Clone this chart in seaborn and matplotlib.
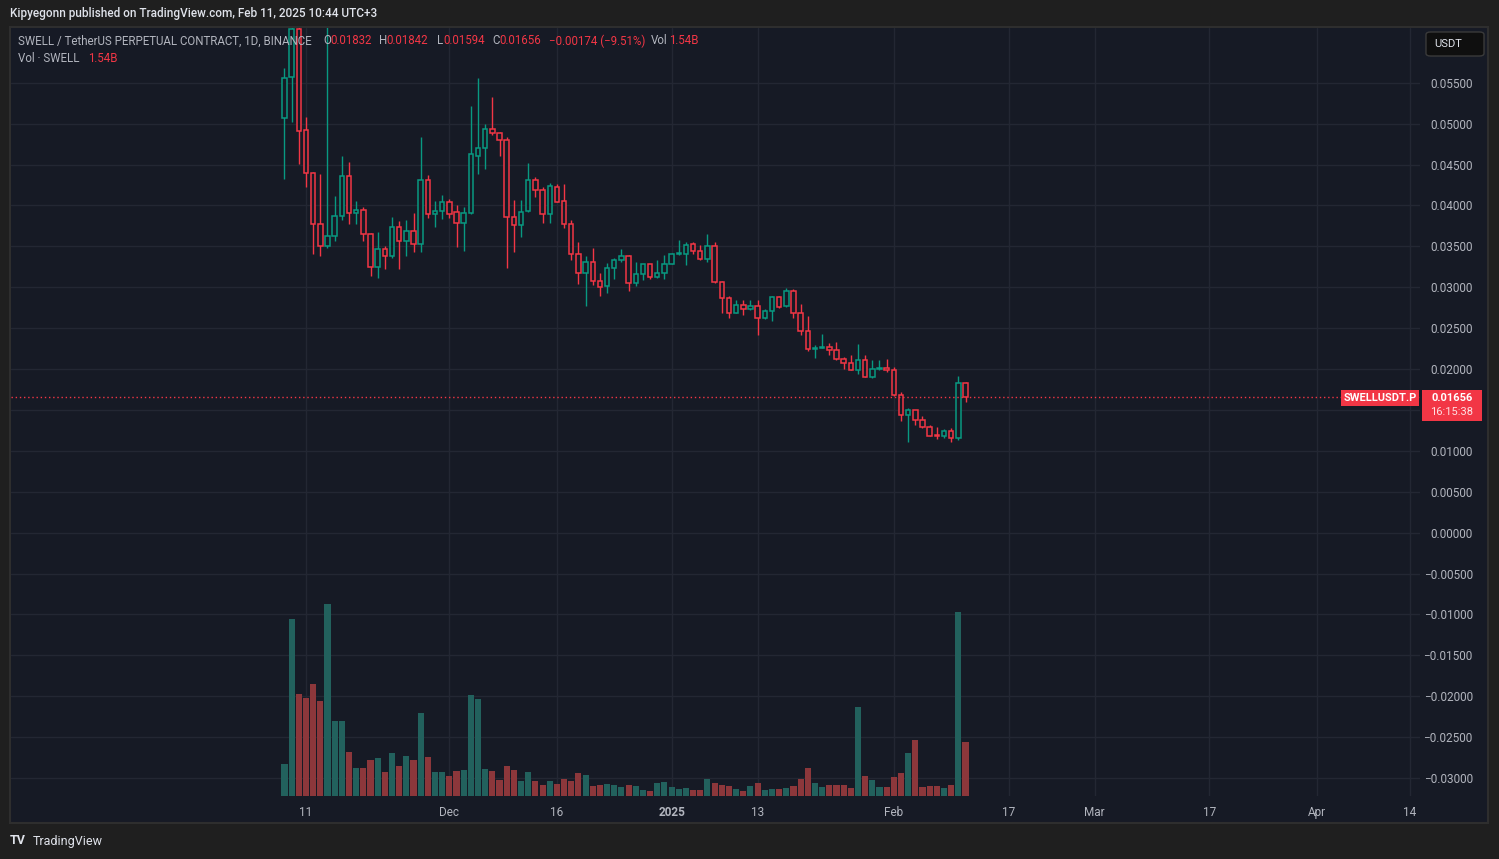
import numpy as np
import pandas as pd
import matplotlib.pyplot as plt
import matplotlib.dates as mdates
from matplotlib.patches import Rectangle, FancyBboxPatch
import seaborn as sns

# SWELL / USDT perpetual, daily candles 2024-11-08 .. 2025-02-11
dates = pd.date_range("2024-11-08", "2025-02-11", freq="D")

opens = [
    0.0507, 0.0557, 0.0616, 0.0492, 0.0440, 0.0377, 0.0351, 0.0363, 0.0387, 0.0436,
    0.0391, 0.0394, 0.0365, 0.0325, 0.0347, 0.0338, 0.0374, 0.0357, 0.0369, 0.0353,
    0.0431, 0.0389, 0.0393,
    0.0404, 0.0392, 0.0378, 0.0391, 0.0461, 0.0470, 0.0494, 0.0489, 0.0480, 0.0386,
    0.0376, 0.0393, 0.0431, 0.0419, 0.0389, 0.0423, 0.0405, 0.0377, 0.0341, 0.0317,
    0.0331, 0.0308, 0.0301, 0.0323, 0.0333, 0.0338, 0.0305, 0.0316, 0.0328, 0.0313,
    0.0318,
    0.0329, 0.0341, 0.0341, 0.0353, 0.0344, 0.0335, 0.0350, 0.0306, 0.0287, 0.0268,
    0.0278, 0.0274, 0.0277, 0.0262, 0.0271, 0.0288, 0.0277, 0.0296, 0.0268, 0.0246,
    0.0224, 0.0226, 0.0227, 0.0223, 0.0212, 0.0207, 0.0199, 0.0211, 0.0190, 0.0200,
    0.0201,
    0.0199, 0.0168, 0.0144, 0.0150, 0.0138, 0.0129, 0.0119, 0.0118, 0.0124, 0.0116,
    0.01832,
]
highs = [
    0.0568, 0.0660, 0.0650, 0.0508, 0.0441, 0.0439, 0.0700, 0.0411, 0.0460, 0.0453,
    0.0405, 0.0398, 0.0366, 0.0367, 0.0350, 0.0386, 0.0381, 0.0382, 0.0391, 0.0484,
    0.0437, 0.0405, 0.0413,
    0.0408, 0.0400, 0.0398, 0.0522, 0.0556, 0.0500, 0.0533, 0.0490, 0.0484, 0.0407,
    0.0407, 0.0452, 0.0435, 0.0423, 0.0427, 0.0426, 0.0426, 0.0382, 0.0355, 0.0338,
    0.0348, 0.0317, 0.0330, 0.0336, 0.0347, 0.0340, 0.0331, 0.0329, 0.0329, 0.0333,
    0.0339,
    0.0342, 0.0358, 0.0355, 0.0355, 0.0352, 0.0365, 0.0355, 0.0308, 0.0289, 0.0285,
    0.0285, 0.0285, 0.0285, 0.0274, 0.0289, 0.0289, 0.0299, 0.0298, 0.0279, 0.0265,
    0.0229, 0.0243, 0.0232, 0.0233, 0.0215, 0.0217, 0.0231, 0.0217, 0.0211, 0.0211,
    0.0212,
    0.0202, 0.0172, 0.0152, 0.0150, 0.0143, 0.0132, 0.0129, 0.0127, 0.0128, 0.0192,
    0.01842,
]
lows = [
    0.0432, 0.0502, 0.0451, 0.0423, 0.0341, 0.0338, 0.0348, 0.0356, 0.0382, 0.0377,
    0.0377, 0.0357, 0.0314, 0.0311, 0.0322, 0.0336, 0.0322, 0.0338, 0.0343, 0.0343,
    0.0385, 0.0374, 0.0383,
    0.0385, 0.0349, 0.0344, 0.0390, 0.0438, 0.0445, 0.0486, 0.0461, 0.0324, 0.0343,
    0.0362, 0.0392, 0.0410, 0.0378, 0.0378, 0.0404, 0.0373, 0.0333, 0.0304, 0.0277,
    0.0303, 0.0289, 0.0293, 0.0310, 0.0331, 0.0296, 0.0302, 0.0309, 0.0310, 0.0311,
    0.0310,
    0.0328, 0.0340, 0.0327, 0.0341, 0.0333, 0.0331, 0.0305, 0.0268, 0.0263, 0.0268,
    0.0266, 0.0272, 0.0242, 0.0261, 0.0259, 0.0275, 0.0276, 0.0262, 0.0242, 0.0222,
    0.0213, 0.0226, 0.0217, 0.0211, 0.0200, 0.0199, 0.0194, 0.0190, 0.0189, 0.0199,
    0.0197,
    0.0167, 0.0137, 0.0111, 0.0132, 0.0128, 0.0118, 0.0114, 0.0116, 0.0111, 0.0113,
    0.01594,
]
closes = [
    0.0556, 0.0616, 0.0491, 0.0440, 0.0377, 0.0351, 0.0363, 0.0387, 0.0436, 0.0391,
    0.0394, 0.0365, 0.0325, 0.0347, 0.0338, 0.0374, 0.0357, 0.0369, 0.0353, 0.0431,
    0.0389, 0.0393, 0.0404,
    0.0389, 0.0378, 0.0391, 0.0463, 0.0470, 0.0494, 0.0489, 0.0480, 0.0386, 0.0376,
    0.0392, 0.0431, 0.0419, 0.0389, 0.0424, 0.0404, 0.0377, 0.0341, 0.0317, 0.0331,
    0.0308, 0.0300, 0.0323, 0.0333, 0.0338, 0.0305, 0.0316, 0.0328, 0.0313, 0.0318,
    0.0329,
    0.0341, 0.0342, 0.0352, 0.0344, 0.0335, 0.0350, 0.0306, 0.0287, 0.0268, 0.0278,
    0.0274, 0.0277, 0.0262, 0.0271, 0.0288, 0.0276, 0.0296, 0.0268, 0.0246, 0.0224,
    0.0226, 0.0227, 0.0223, 0.0212, 0.0207, 0.0199, 0.0211, 0.0190, 0.0200, 0.0201,
    0.0199,
    0.0168, 0.0144, 0.0150, 0.0138, 0.0129, 0.0118, 0.0118, 0.0124, 0.0116, 0.0183,
    0.01656,
]
# volume in billions of SWELL
volumes = [
    0.91, 5.07, 2.92, 2.81, 3.20, 2.72, 5.50, 2.14, 2.14, 1.25, 0.79, 0.79, 1.02,
    1.08, 0.68, 1.22, 0.85, 1.14, 1.02, 2.37, 1.11, 0.68, 0.68,
    0.57, 0.71, 0.74, 2.89, 2.77, 0.77, 0.71, 0.45, 0.85, 0.74, 0.42, 0.68, 0.42,
    0.31, 0.42, 0.34, 0.48, 0.42, 0.65, 0.59, 0.28, 0.31, 0.34, 0.31, 0.25, 0.31,
    0.28, 0.16, 0.13, 0.36, 0.39,
    0.25, 0.19, 0.22, 0.16, 0.16, 0.48, 0.36, 0.31, 0.28, 0.19, 0.13, 0.28, 0.36,
    0.16, 0.19, 0.19, 0.22, 0.28, 0.48, 0.79, 0.36, 0.25, 0.31, 0.31, 0.31, 0.22,
    2.54, 0.57, 0.45, 0.25, 0.25,
    0.54, 0.65, 1.22, 1.60, 0.25, 0.28, 0.28, 0.22, 0.31, 5.27, 1.54,
]

price_ticks = np.round(np.arange(-0.030, 0.0551, 0.005), 3)
time_ticks = ["2024-11-11", "2024-12-01", "2024-12-16", "2025-01-01", "2025-01-13",
              "2025-02-01", "2025-02-17", "2025-03-01", "2025-03-17", "2025-04-01",
              "2025-04-14"]
time_labels = ["11", "Dec", "16", "2025", "13", "Feb", "17", "Mar", "17", "Apr", "14"]
last_price = 0.01656

# colours
BG = "#1f1f1f"
PANEL = "#161a25"
GRID = "#232733"
TXT = "#b2b5be"
UP = "#089981"
DOWN = "#f23645"
VOL_UP = "#22615d"
VOL_DOWN = "#8c373b"

sns.set_theme(style="dark", rc={"axes.facecolor": PANEL, "figure.facecolor": BG,
                                "savefig.facecolor": BG})
plt.rcParams["font.family"] = ["Roboto", "DejaVu Sans"]

W, H = 1499, 859
fig = plt.figure(figsize=(W / 100, H / 100), dpi=100)


def fx(x):
    return x / W


def fy(y):
    return 1 - y / H


# chart panel
fig.patches.append(Rectangle((fx(10), fy(823)), fx(1488) - fx(10), fy(27) - fy(823),
                             transform=fig.transFigure, facecolor=PANEL,
                             edgecolor="#2e2e2e", lw=1.5, zorder=-5))

ax = fig.add_axes([fx(11), fy(796), fx(1420) - fx(11), fy(28) - fy(796)])
ax.set_facecolor(PANEL)
ax2 = ax.twinx()

x = mdates.date2num(dates)
o = np.array(opens)
c = np.array(closes)
up = c >= o
cols = np.where(up, UP, DOWN)

# volume
vol_df = pd.DataFrame({"day": x, "vol": volumes, "dir": np.where(up, "up", "down")})
sns.barplot(data=vol_df, x="day", y="vol", hue="dir",
            palette={"up": VOL_UP, "down": VOL_DOWN}, native_scale=True,
            dodge=False, errorbar=None, legend=False, width=0.85, saturation=1,
            edgecolor="none", linewidth=0, ax=ax2)
ax2.set_ylim(0, 22.04)
ax2.set_yticks([])
ax2.set_ylabel("")
ax2.set_xlabel("")
ax2.grid(False)

# candles: wicks then hollow bodies
ax.vlines(x, lows, highs, colors=cols, lw=1, zorder=2)
ax.bar(x, np.abs(c - o), bottom=np.minimum(o, c), width=0.62, color=PANEL,
       edgecolor=cols, linewidth=1.1, zorder=3)

ax.axhline(last_price, color=DOWN, ls=(0, (1, 2)), lw=1, zorder=4)

# axes
x0 = mdates.date2num(pd.Timestamp("2024-11-11"))
ax.set_xlim(x0 - 41.15, x0 + 155.4)
ax.set_ylim(-0.0322, 0.0617)
ax.set_xticks(mdates.date2num(pd.to_datetime(time_ticks)))
ax.set_xticklabels(time_labels)
ax.set_yticks(price_ticks)
ax.set_yticklabels([f"{v:.5f}".replace("-", "\u2212") for v in price_ticks])
ax.yaxis.tick_right()
ax.tick_params(axis="y", length=0, pad=38, colors=TXT, labelsize=8.5)
ax.tick_params(axis="x", length=0, pad=7, colors=TXT, labelsize=8.5)
for lab in ax.get_yticklabels():
    lab.set_horizontalalignment("right")
for lab in ax.get_xticklabels():
    if lab.get_text() == "2025":
        lab.set_fontweight("bold")
ax.grid(True, color=GRID, lw=1)
for a in (ax, ax2):
    for s in a.spines.values():
        s.set_visible(False)

# header and legend text
fig.text(fx(10), fy(14), "Kipyegonn published on TradingView.com, Feb 11, 2025 10:44 UTC+3",
         color="#e0e3eb", fontsize=8.5, fontweight="medium", va="center")

line1 = [
    (18, "SWELL / TetherUS PERPETUAL CONTRACT, 1D, BINANCE", TXT),
    (323, "O", TXT), (330, "0.01832", DOWN),
    (379, "H", TXT), (386, "0.01842", DOWN),
    (437, "L", TXT), (443, "0.01594", DOWN),
    (492, "C", TXT), (499, "0.01656", DOWN),
    (549, "\u22120.00174 (\u22129.51%)", DOWN),
    (651, "Vol", TXT), (669, "1.54B", DOWN),
]
for px, s, col in line1:
    fig.text(fx(px), fy(41), s, color=col, fontsize=8.3, va="center")
fig.text(fx(18), fy(58), "Vol \u00b7 SWELL", color=TXT, fontsize=8.3, va="center")
fig.text(fx(88), fy(58), "1.54B", color=DOWN, fontsize=8.3, va="center")

# currency box
fig.patches.append(FancyBboxPatch((fx(1426), fy(56)), fx(1484) - fx(1426), fy(32) - fy(56),
                                  boxstyle="round,pad=0,rounding_size=0.003",
                                  transform=fig.transFigure, facecolor="#0f0f0f",
                                  edgecolor="#3a3a3a", lw=1, zorder=5))
fig.text(fx(1434), fy(44), "USDT", color="#e0e3eb", fontsize=8, va="center", zorder=6)

# last price labels
fig.patches.append(Rectangle((fx(1341), fy(406)), fx(1419) - fx(1341), fy(390) - fy(406),
                             transform=fig.transFigure, facecolor=DOWN, lw=0, zorder=5))
fig.text(fx(1380), fy(398), "SWELLUSDT.P", color="white", fontsize=8, fontweight="bold",
         ha="center", va="center", zorder=6)
fig.patches.append(Rectangle((fx(1422), fy(421)), fx(1482) - fx(1422), fy(390) - fy(421),
                             transform=fig.transFigure, facecolor=DOWN, lw=0, zorder=5))
fig.text(fx(1452), fy(398), "0.01656", color="white", fontsize=8, fontweight="bold",
         ha="center", va="center", zorder=6)
fig.text(fx(1452), fy(412), "16:15:38", color="#fde0e3", fontsize=8,
         ha="center", va="center", zorder=6)

# footer
fig.text(fx(10), fy(841), "TV", color="#e0e3eb", fontsize=9, fontweight="bold", va="center")
fig.text(fx(33), fy(841), "TradingView", color="#e0e3eb", fontsize=9, va="center")

fig.savefig("out.png", dpi=100, facecolor=BG)
